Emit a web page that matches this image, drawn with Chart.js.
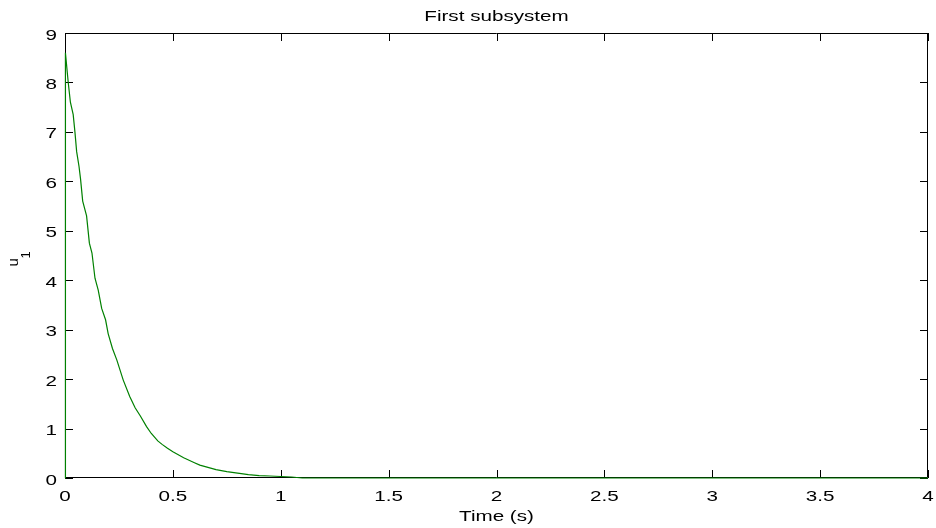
<!DOCTYPE html>
<html>
<head>
<meta charset="utf-8">
<script src="https://cdn.jsdelivr.net/npm/chart.js@4/dist/chart.umd.min.js"></script>
<style>
  html, body { margin: 0; padding: 0; background: #fff; }
  #wrap { width: 936px; height: 528px; }
</style>
</head>
<body>
<div id="wrap"><canvas id="chart"></canvas></div>
<script>
// values
const timeS = [0, 0.002, 0.015, 0.025, 0.038, 0.046, 0.054, 0.065, 0.072, 0.082, 0.1, 0.113, 0.125, 0.139, 0.154, 0.17, 0.188, 0.2, 0.22, 0.24, 0.27, 0.3, 0.325, 0.35, 0.378, 0.4, 0.43, 0.45, 0.475, 0.5, 0.55, 0.6, 0.625, 0.65, 0.7, 0.75, 0.8, 0.85, 0.9, 0.95, 1.0, 1.05, 1.1, 1.5, 2, 2.5, 3, 3.5, 4]
const u1 = [0, 8.6, 8.0, 7.6, 7.35, 7.0, 6.6, 6.3, 6.05, 5.6, 5.3, 4.75, 4.55, 4.04, 3.8, 3.43, 3.2, 2.92, 2.62, 2.39, 1.98, 1.65, 1.42, 1.25, 1.04, 0.9, 0.75, 0.68, 0.6, 0.53, 0.41, 0.31, 0.26, 0.23, 0.17, 0.13, 0.1, 0.07, 0.05, 0.04, 0.03, 0.02, 0, 0, 0, 0, 0, 0, 0]
const xTicks = [0, 0.5, 1, 1.5, 2, 2.5, 3, 3.5, 4]
const yTicks = [0, 1, 2, 3, 4, 5, 6, 7, 8, 9]

const FONT = "'Liberation Sans', Arial, sans-serif"
const SX = 1.33 // the reference text is drawn wide

function wideText(ctx, text, x, y, align) {
  ctx.save()
  ctx.translate(x, y)
  ctx.scale(SX, 1)
  ctx.textAlign = align
  ctx.fillText(text, 0, 0)
  ctx.restore()
}

// MATLAB style box with inward ticks on all four sides, plus the texts
const boxPlugin = {
  id: 'box',
  beforeDatasetsDraw(chart) {
    const { ctx, chartArea: a, scales } = chart
    const len = 8
    ctx.save()
    ctx.strokeStyle = '#000'
    ctx.lineWidth = 1
    ctx.beginPath()
    ctx.rect(a.left + 0.5, a.top + 0.5, a.right - a.left - 1, a.bottom - a.top - 1)
    xTicks.forEach(v => {
      const x = Math.round(scales.x.getPixelForValue(v)) + 0.5
      ctx.moveTo(x, a.bottom); ctx.lineTo(x, a.bottom - len)
      ctx.moveTo(x, a.top); ctx.lineTo(x, a.top + len)
    })
    yTicks.forEach(v => {
      const y = Math.round(scales.y.getPixelForValue(v)) + 0.5
      ctx.moveTo(a.left, y); ctx.lineTo(a.left + len, y)
      ctx.moveTo(a.right, y); ctx.lineTo(a.right - len, y)
    })
    ctx.stroke()
    ctx.restore()
  },
  afterDraw(chart) {
    const { ctx, chartArea: a, scales } = chart
    const cx = (a.left + a.right) / 2
    ctx.save()
    ctx.fillStyle = '#000'
    ctx.textBaseline = 'alphabetic'
    ctx.font = '15.5px ' + FONT
    wideText(ctx, 'First subsystem', cx, 21, 'center')
    xTicks.forEach(v => wideText(ctx, String(v), scales.x.getPixelForValue(v), a.bottom + 23, 'center'))
    yTicks.forEach(v => wideText(ctx, String(v), a.left - 8, scales.y.getPixelForValue(v) + 6.5, 'right'))
    wideText(ctx, 'Time (s)', cx, a.bottom + 43, 'center')

    // y axis label "u" with subscript 1
    ctx.translate(18, (a.top + a.bottom) / 2 + 11)
    ctx.rotate(-Math.PI / 2)
    ctx.textAlign = 'left'
    ctx.font = '15px ' + FONT
    ctx.fillText('u', 0, 0)
    ctx.font = '13px ' + FONT
    ctx.fillText('1', 8, 12)
    ctx.restore()
  }
}

new Chart(document.getElementById('chart'), {
  type: 'scatter',
  data: {
    datasets: [{
      data: timeS.map((t, i) => ({ x: t, y: u1[i] })),
      showLine: true,
      borderColor: '#008000',
      borderWidth: 1.2,
      pointRadius: 0,
      tension: 0,
      clip: 2
    }]
  },
  options: {
    responsive: true,
    maintainAspectRatio: false,
    animation: false,
    layout: { padding: { left: 0, right: 8, top: 33, bottom: 0 } },
    plugins: {
      legend: { display: false },
      tooltip: { enabled: false },
      title: { display: false }
    },
    scales: {
      x: {
        type: 'linear',
        min: 0,
        max: 4,
        afterFit(s) { s.height = 50 },
        afterBuildTicks(s) { s.ticks = xTicks.map(v => ({ value: v })) },
        grid: { display: false, drawTicks: false },
        border: { display: false },
        ticks: { display: false }
      },
      y: {
        min: 0,
        max: 9,
        afterFit(s) { s.width = 65 },
        afterBuildTicks(s) { s.ticks = yTicks.map(v => ({ value: v })) },
        grid: { display: false, drawTicks: false },
        border: { display: false },
        ticks: { display: false }
      }
    }
  },
  plugins: [boxPlugin]
})
</script>
</body>
</html>
